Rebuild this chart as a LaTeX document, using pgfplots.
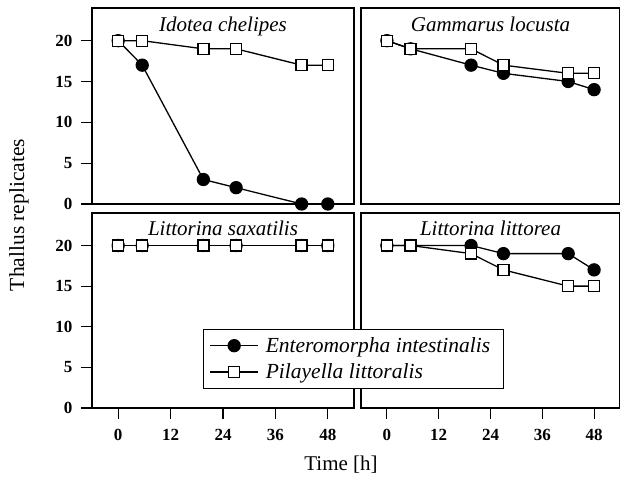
\documentclass[border=0pt]{standalone}
\usepackage{fontspec}
\setmainfont{Liberation Serif}
\usepackage{pgfplots}
\pgfplotsset{compat=1.18}
\pgfplotstableread{
t E P
0 20 20
5.5 17 20
19.5 3 19
27 2 19
42 0 17
48 0 17
}\idotea
\pgfplotstableread{
t E P
0 20 20
5.5 19 19
19.5 17 19
27 16 17
42 15 16
48 14 16
}\gammarus
\pgfplotstableread{
t E P
0 20 20
5.5 20 20
19.5 20 20
27 20 20
42 20 20
48 20 20
}\saxatilis
\pgfplotstableread{
t E P
0 20 20
5.5 20 20
19.5 20 19
27 19 17
42 19 15
48 17 15
}\littorea
\tikzset{ttl/.style={font=\fontsize{21}{25}\selectfont\itshape, anchor=base}}
\begin{document}
\begin{tikzpicture}
\useasboundingbox (0pt,0pt) rectangle (620pt,487pt);
\pgfplotsset{
 panel/.style={scale only axis, anchor=south west, xmin=-6, xmax=54, ymin=0, ymax=24,
   axis line style={line width=1.1pt}, tick style={line width=1.1pt, black},
   tick align=outside, major tick length=11pt,
   ytick={0,5,10,15,20}, xtick={0,12,24,36,48},
   /pgf/number format/assume math mode=true,
   tick label style={font=\fontsize{17}{20}\selectfont\bfseries},
   xticklabel style={yshift=-7pt},
   yticklabel style={xshift=-5pt},
   clip=false},
 lefty/.style={ytick pos=left},
 righty/.style={ytick=\empty},
 topx/.style={xtick=\empty},
 bottomx/.style={xtick pos=bottom},
 E/.style={black, line width=1.3pt, mark=*, mark size=6pt, mark options={fill=black, solid}},
 P/.style={black, line width=1.3pt, mark=square*, mark size=5.5pt, mark options={fill=white, solid}},
}
% bottom right
\begin{axis}[panel, righty, bottomx, at={(361pt,79pt)}, width=259pt, height=195pt]
\addplot[E] table[x=t,y=E] {\littorea};
\addplot[P] table[x=t,y=P] {\littorea};
\node[ttl] at (axis description cs:0.5,1) [yshift=-23pt] {Littorina littorea};
\end{axis}
% bottom left
\begin{axis}[panel, lefty, bottomx, at={(92pt,79pt)}, width=262pt, height=195pt,
  legend style={at={(axis description cs:0.424,0.405)}, anchor=north west, draw=black,
    line width=0.9pt, font=\fontsize{21.5}{24}\selectfont\itshape, inner xsep=6pt, inner ysep=6pt,
    row sep=6pt, cells={anchor=west}, nodes={inner xsep=7pt}},
  legend image code/.code={\draw[mark repeat=2,mark phase=2,#1] plot coordinates {(0pt,0pt) (24pt,0pt) (48pt,0pt)};}]
\addplot[E] table[x=t,y=E] {\saxatilis};
\addlegendentry{Enteromorpha intestinalis}
\addplot[P] table[x=t,y=P] {\saxatilis};
\addlegendentry{Pilayella littoralis}
\node[ttl] at (axis description cs:0.5,1) [yshift=-23pt] {Littorina saxatilis};
\end{axis}
% top left
\begin{axis}[panel, lefty, topx, at={(92pt,283pt)}, width=262pt, height=196pt]
\addplot[E] table[x=t,y=E] {\idotea};
\addplot[P] table[x=t,y=P] {\idotea};
\node[ttl] at (axis description cs:0.5,1) [yshift=-24pt] {Idotea chelipes};
\end{axis}
% top right
\begin{axis}[panel, righty, topx, at={(361pt,283pt)}, width=259pt, height=196pt]
\addplot[E] table[x=t,y=E] {\gammarus};
\addplot[P] table[x=t,y=P] {\gammarus};
\node[ttl] at (axis description cs:0.5,1) [yshift=-24pt] {Gammarus locusta};
\end{axis}
\node[rotate=90, font=\fontsize{21.5}{25}\selectfont] at (19pt,272pt) {Thallus replicates};
\node[font=\fontsize{21}{25}\selectfont] at (341pt,22pt) {Time [h]};
\end{tikzpicture}
\end{document}
